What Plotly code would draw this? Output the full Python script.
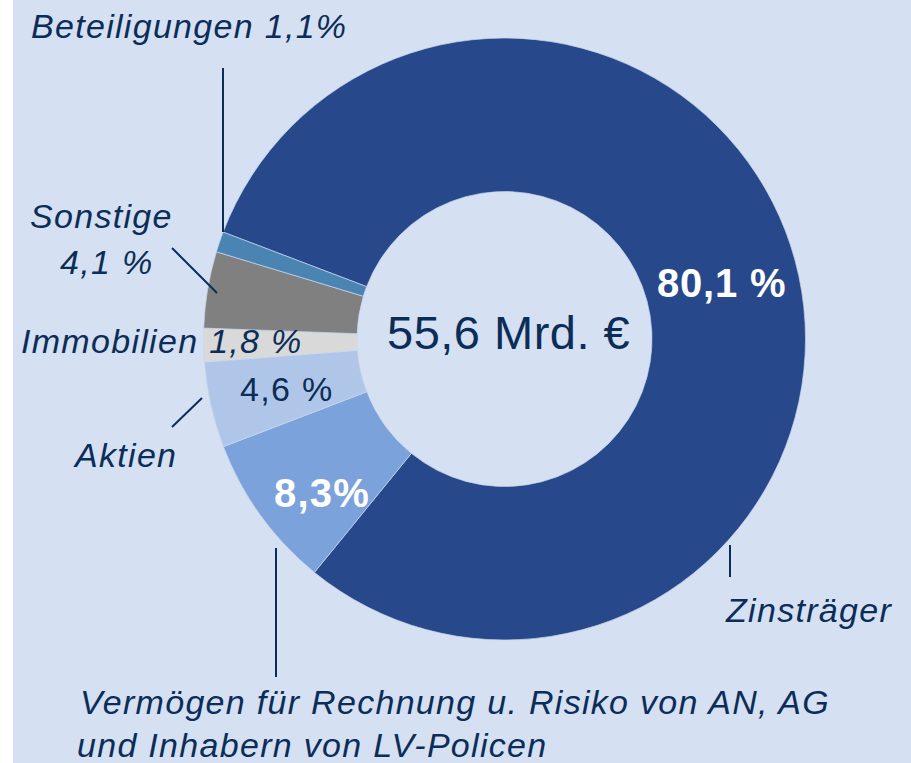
import plotly.graph_objects as go

# ---- data (clockwise order starting at the Zinsträger slice) ----
labels = ["Zinsträger", "Vermögen für Rechnung u. Risiko von AN, AG und Inhabern von LV-Policen",
          "Aktien", "Immobilien", "Sonstige", "Beteiligungen"]
values = [80.1, 8.3, 4.6, 1.8, 4.1, 1.1]
total_text = "55,6 Mrd. €"

# ---- styles ----
colors = ["#27488A", "#7BA2DA", "#B0C6E9", "#D9D9D9", "#808080", "#4A84B3"]
BG = "#D5E0F2"
NAVY = "#0B2D57"
W, H = 911, 763

def pct(v, space=True):
    s = f"{v:.1f}".replace(".", ",")
    return s + (" %" if space else "%")

def px(x):
    return x / W

def py(y):
    return 1 - y / H

def ls(text, spacing):
    return f'<span style="letter-spacing:{spacing}px">{text}</span>'

fig = go.Figure()
fig.add_trace(go.Pie(
    labels=labels, values=values, sort=False, direction="clockwise",
    rotation=290.8, hole=0.49, textinfo="none", hoverinfo="label+percent",
    marker=dict(colors=colors, line=dict(color="#C9D7EE", width=0.7)),
    domain=dict(x=[px(203.5), px(805.5)], y=[py(640), py(38)]),
    showlegend=False,
))

ann = []
def add(text, x, y, size=34, color=NAVY, italic=True, bold=False, spacing=1.3, xanchor="center"):
    ann.append(dict(
        text=ls(text, spacing), x=px(x), y=py(y), xref="paper", yref="paper",
        xanchor=xanchor, yanchor="middle", showarrow=False,
        font=dict(family="Liberation Sans, Arial, sans-serif", size=size, color=color,
                  style="italic" if italic else "normal",
                  weight="bold" if bold else "normal"),
    ))

add(f"{labels[5]} {pct(values[5], False)}", 189, 26)
add(labels[4], 101, 215.5)
add(pct(values[4]), 106, 261.5)
add(f"{labels[3]} {pct(values[3])}", 162, 340.5)
add(pct(values[2]), 286, 389, italic=False)
add(labels[2], 125, 455)
add(pct(values[1], False), 322, 492.5, size=40, color="white", italic=False, bold=True, spacing=1.2)
add(pct(values[0]), 721, 282.5, size=40, color="white", italic=False, bold=True, spacing=0.8)
add(total_text, 508, 333, size=47, italic=False, spacing=0.5)
add(labels[0], 808, 609.5)
add("Vermögen für Rechnung u. Risiko von AN, AG", 455, 702)
add("und Inhabern von LV-Policen", 312, 745)

shapes = [
    dict(type="rect", xref="paper", yref="paper", x0=0, x1=px(13), y0=0, y1=1,
         fillcolor="white", line=dict(width=0), layer="below"),
]
def seg(x0, y0, x1, y1):
    shapes.append(dict(type="line", xref="paper", yref="paper",
                       x0=px(x0), y0=py(y0), x1=px(x1), y1=py(y1),
                       line=dict(color=NAVY, width=2)))
seg(223, 68, 223, 232)      # Beteiligungen
seg(172, 248, 217, 293)     # Sonstige
seg(172, 427, 202, 398)     # Aktien
seg(276, 548, 276, 677)     # Vermögen
seg(730, 545, 730, 577)     # Zinsträger

fig.update_layout(
    width=W, height=H, margin=dict(l=0, r=0, t=0, b=0, pad=0),
    paper_bgcolor=BG, plot_bgcolor=BG,
    annotations=ann, shapes=shapes,
)
fig.write_html("out.html", config={"displayModeBar": False},
               post_script="document.body.style.margin='0';document.body.style.overflow='hidden';")
